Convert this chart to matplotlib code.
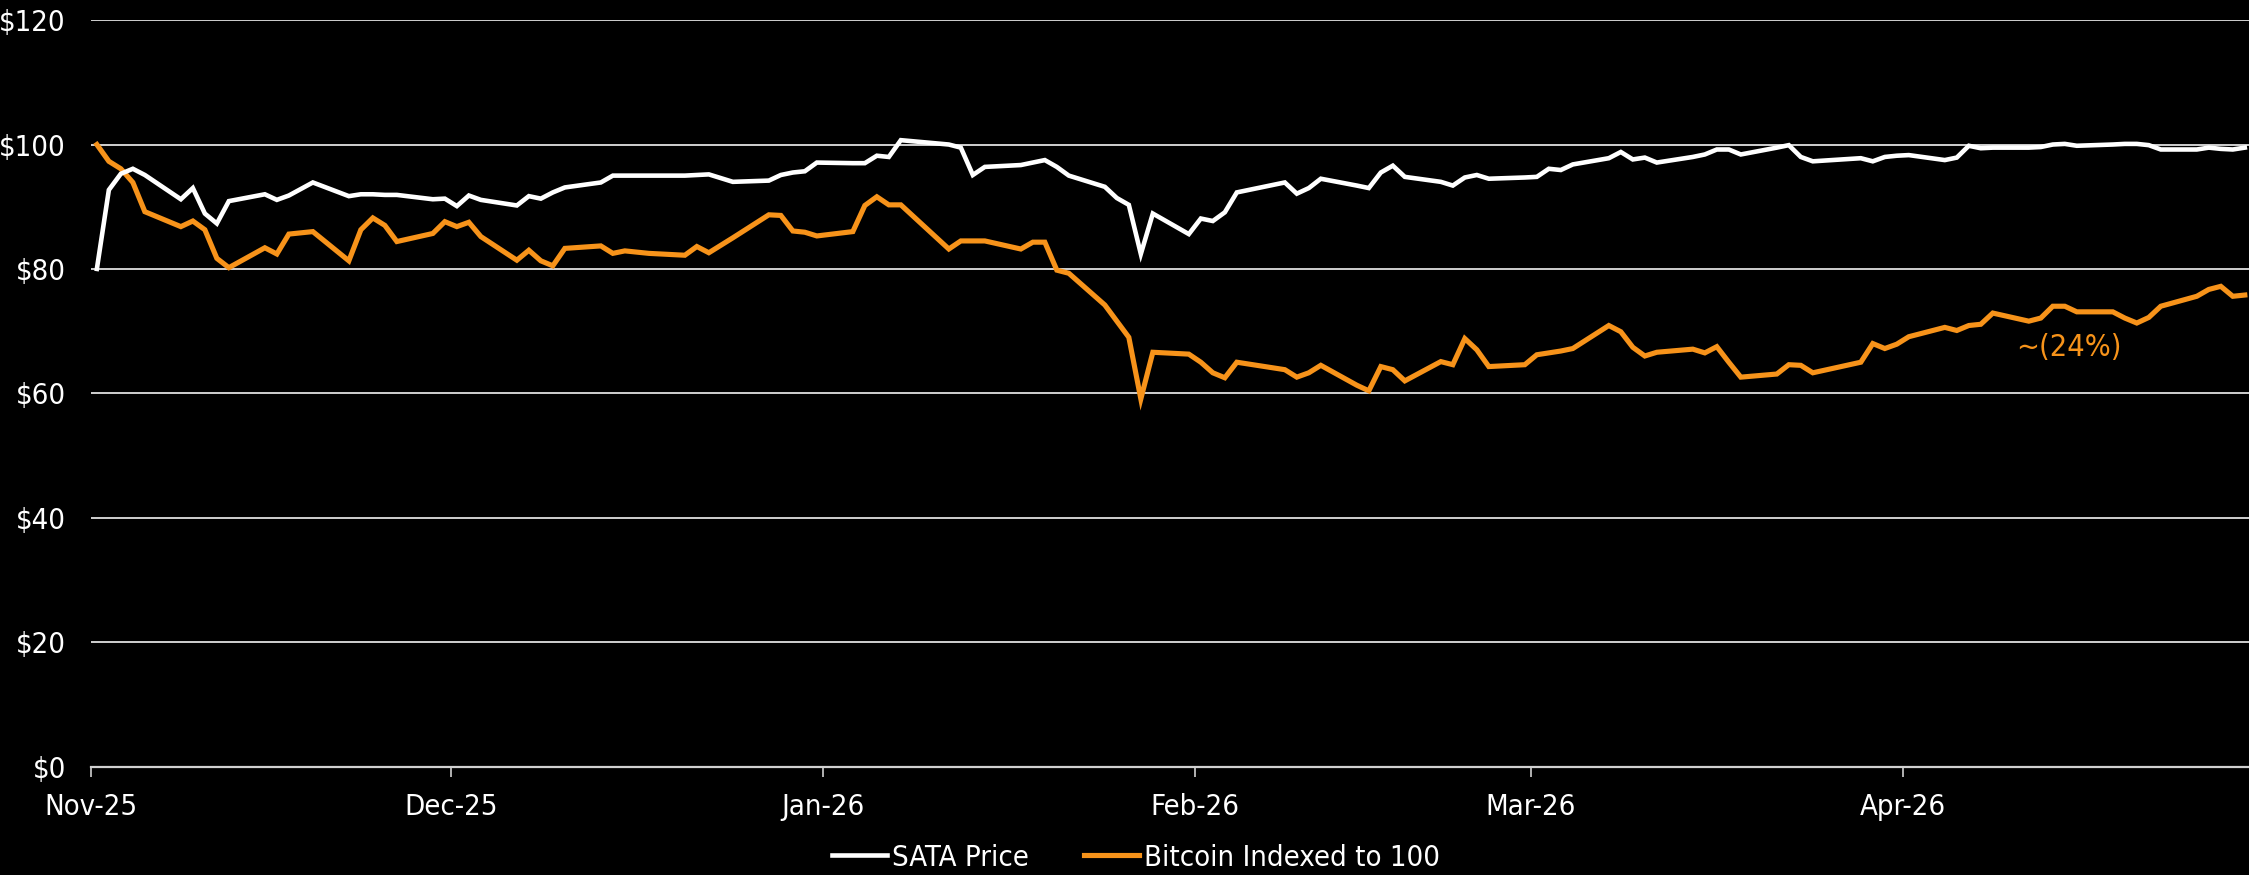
import pandas as pd
import matplotlib
matplotlib.use("Agg")
import matplotlib.pyplot as plt
import matplotlib.dates as mdates
from matplotlib.ticker import FuncFormatter

START = pd.Timestamp("2025-11-03")
OUT_FILE = "out.png"

SATA_COLOR = "#ffffff"
BTC_COLOR = "#f7931a"
GRID_COLOR = "#d0d0d0"

# trading days after START where the lines have a visible vertex
DAY_OFFSETS = [
    0, 1, 2, 3, 4, 7, 8, 9, 10, 11, 14, 15, 16, 18, 21, 22, 23, 24, 25,
    28, 29, 30, 31, 32, 35, 36, 37, 38, 39, 42, 43, 44, 46, 49, 50, 51, 53,
    56, 57, 58, 59, 60, 63, 64, 65, 66, 67, 71, 72, 73, 74, 77, 78, 79, 80,
    81, 84, 85, 86, 87, 88, 91, 92, 93, 94, 95, 99, 100, 101, 102, 105, 106,
    107, 108, 109, 112, 113, 114, 115, 116, 119, 120, 121, 122, 123, 126, 127,
    128, 129, 130, 133, 134, 135, 136, 137, 140, 141, 142, 143, 147, 148, 149,
    150, 151, 154, 155, 156, 157, 158, 161, 162, 163, 164, 165, 168, 169, 170,
    171, 172, 175, 176, 177, 178, 179,
]

SATA_PRICE = [
    80.0, 92.7, 95.3, 96.1, 95.1, 91.2, 93.0, 88.9, 87.3, 90.9, 92.0, 91.1, 91.8, 93.9, 91.7, 92.0, 92.0, 91.9, 91.9,
    91.2, 91.3, 90.1, 91.8, 91.1, 90.2, 91.7, 91.3, 92.3, 93.1, 93.9, 95.0, 95.0, 95.0, 95.0, 95.1, 95.2, 94.0,
    94.2, 95.1, 95.5, 95.7, 97.1, 97.0, 97.0, 98.2, 98.0, 100.7, 100.0, 99.5, 95.1, 96.4, 96.7, 97.1, 97.5, 96.4,
    95.0, 93.2, 91.4, 90.3, 82.4, 88.9, 85.6, 88.1, 87.7, 89.1, 92.3, 93.9, 92.1, 93.0, 94.5, 93.4, 93.0,
    95.5, 96.6, 94.8, 94.0, 93.4, 94.7, 95.1, 94.5, 94.7, 94.8, 96.1, 95.9, 96.8, 97.8, 98.8,
    97.6, 97.9, 97.1, 98.0, 98.4, 99.2, 99.2, 98.4, 99.5, 99.9, 98.0, 97.3, 97.8, 97.3, 98.0,
    98.2, 98.3, 97.5, 97.9, 99.8, 99.4, 99.5, 99.5, 99.6, 100.0, 100.1, 99.8, 100.0, 100.1, 100.1,
    99.9, 99.2, 99.2, 99.5, 99.3, 99.2, 99.5,
]

BTC_INDEXED = [
    100.0, 97.3, 96.1, 93.9, 89.2, 86.8, 87.7, 86.3, 81.7, 80.2, 83.4, 82.4, 85.6, 86.0, 81.3, 86.3, 88.2, 87.0, 84.4,
    85.7, 87.6, 86.8, 87.5, 85.2, 81.4, 83.0, 81.3, 80.5, 83.3, 83.7, 82.5, 82.9, 82.5, 82.2, 83.6, 82.6, 85.0,
    88.7, 88.6, 86.1, 85.9, 85.3, 86.0, 90.2, 91.6, 90.3, 90.3, 83.2, 84.5, 84.5, 84.5, 83.2, 84.3, 84.3, 79.8,
    79.3, 74.2, 71.6, 69.0, 59.1, 66.6, 66.3, 65.0, 63.3, 62.5, 65.0, 63.8, 62.6, 63.3, 64.5, 61.3, 60.4,
    64.3, 63.8, 62.0, 65.1, 64.6, 68.8, 67.0, 64.3, 64.6, 66.2, 66.5, 66.8, 67.2, 70.9, 69.9,
    67.4, 66.0, 66.6, 67.1, 66.5, 67.5, 65.0, 62.6, 63.1, 64.6, 64.5, 63.3, 65.0, 68.0, 67.2,
    67.9, 69.1, 70.6, 70.1, 70.9, 71.1, 72.9, 71.6, 72.1, 74.0, 74.0, 73.1, 73.1, 72.1, 71.3,
    72.2, 74.0, 75.6, 76.7, 77.2, 75.6, 75.8,
]

Y_TICKS = [0, 20, 40, 60, 80, 100, 120]
N_MONTH_TICKS = 6
ANNOT_TEXT = "~(24%)"
ANNOT_DAY = 164.8
ANNOT_VALUE = 67.3

plt.rcParams["font.family"] = "DejaVu Sans"
plt.rcParams["font.stretch"] = "condensed"


def main():
    # Excel draws each point in the middle of its day
    dates = START + pd.to_timedelta(DAY_OFFSETS, unit="D") + pd.Timedelta(hours=12)

    fig = plt.figure(figsize=(22.49, 8.75), dpi=100, facecolor="black")
    ax = fig.add_axes([0.0404, 0.124, 0.9596, 0.853], facecolor="black")

    for y in Y_TICKS[1:]:
        ax.axhline(y, color=GRID_COLOR, linewidth=1.4, zorder=1)

    ax.plot(dates, SATA_PRICE, color=SATA_COLOR, linewidth=3.3,
            label="SATA Price", zorder=3, solid_joinstyle="miter")
    ax.plot(dates, BTC_INDEXED, color=BTC_COLOR, linewidth=3.7,
            label="Bitcoin Indexed to 100", zorder=2, solid_joinstyle="miter")

    ax.text(START + pd.Timedelta(days=ANNOT_DAY), ANNOT_VALUE, ANNOT_TEXT,
            color=BTC_COLOR, fontsize=22, ha="center", va="center")

    ax.set_ylim(0, 120)
    ax.set_yticks(Y_TICKS)
    ax.yaxis.set_major_formatter(FuncFormatter(lambda v, _: f"${v:.0f}"))
    ax.set_xlim(START, START + pd.Timedelta(days=179.85))
    month_ticks = pd.date_range(START, periods=N_MONTH_TICKS, freq=pd.DateOffset(months=1))
    ax.set_xticks(month_ticks)
    ax.xaxis.set_major_formatter(mdates.DateFormatter("%b-%y"))

    ax.tick_params(axis="y", length=0, pad=18, labelsize=21, labelcolor="white")
    ax.tick_params(axis="x", length=7, width=1.2, color=GRID_COLOR, pad=12,
                   labelsize=21, labelcolor="white")
    for side in ["top", "right", "left"]:
        ax.spines[side].set_visible(False)
    ax.spines["bottom"].set_color(GRID_COLOR)
    ax.spines["bottom"].set_linewidth(1.6)

    handles, labels = ax.get_legend_handles_labels()
    fig.legend(handles, labels, loc="center", bbox_to_anchor=(0.505, 0.02),
               ncol=2, frameon=False, fontsize=21, labelcolor="white",
               handlelength=1.9, handletextpad=0.15, columnspacing=1.9)

    fig.savefig(OUT_FILE, dpi=100, facecolor="black")


if __name__ == "__main__":
    main()
